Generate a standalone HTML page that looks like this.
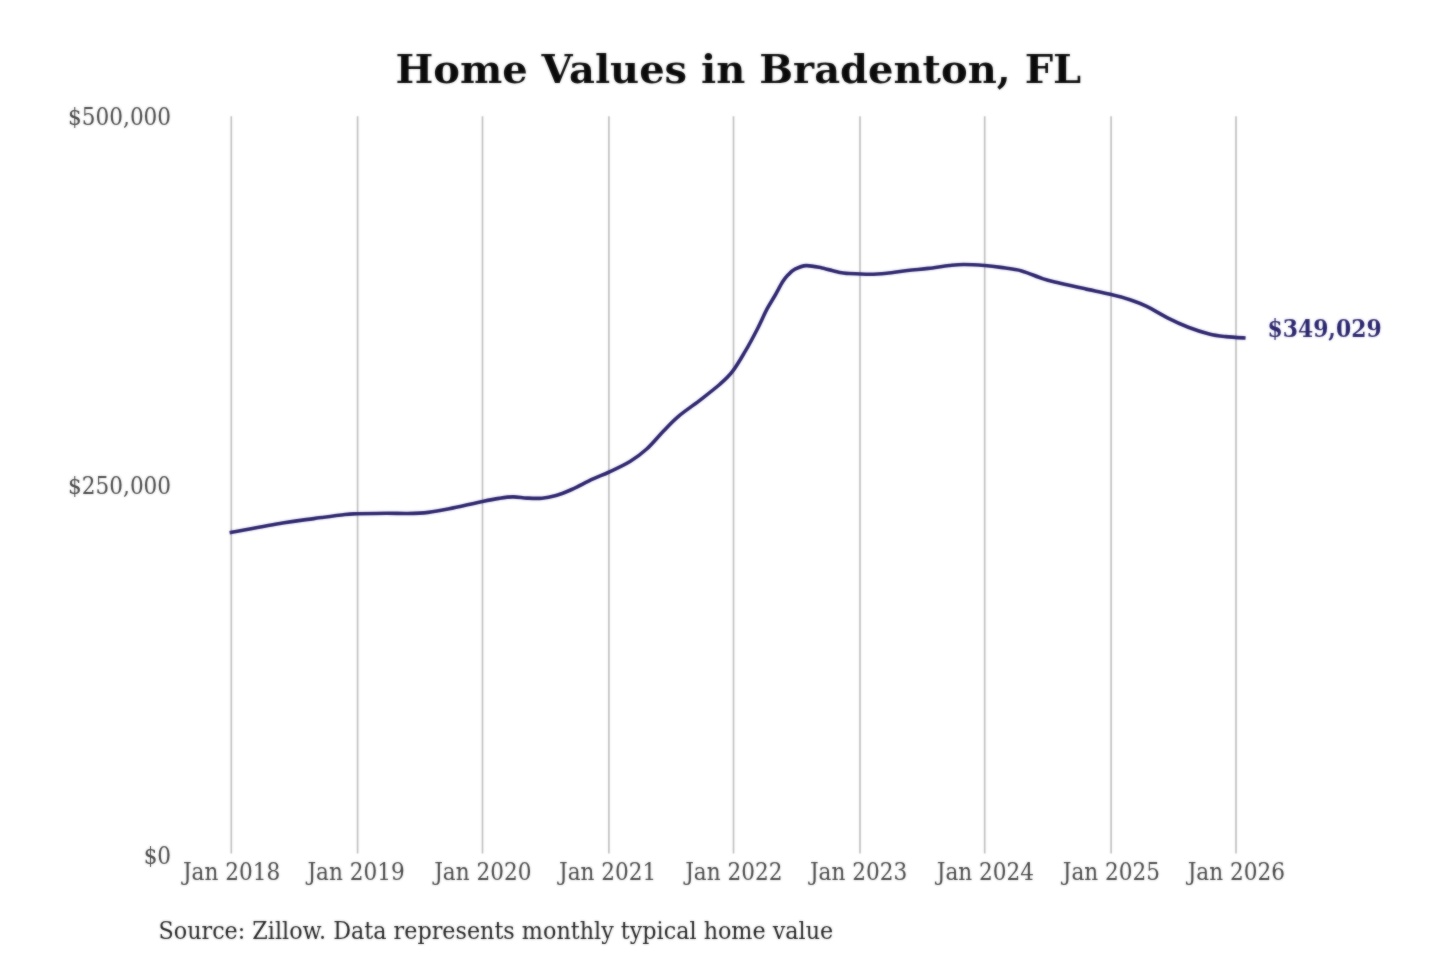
<!DOCTYPE html>
<html lang="en"><head><meta charset="utf-8"><title>Home Values in Bradenton, FL</title>
<style>
html,body{margin:0;padding:0;background:#fff;}
body{width:1440px;height:960px;overflow:hidden;font-family:"DejaVu Serif","Liberation Serif",serif;}
svg{display:block;}
svg{font-family:"DejaVu Serif","Liberation Serif",serif;}
.title{font-size:40px;font-weight:bold;fill:#0a0a0a;}
.tick{font-family:"DejaVu Serif Condensed","DejaVu Serif","Liberation Serif",serif;font-stretch:condensed;font-size:24px;fill:#444;}
.src{font-size:22.28px;fill:#1e1e1e;}
.ann{font-family:"DejaVu Serif Condensed","DejaVu Serif","Liberation Serif",serif;font-stretch:condensed;font-size:23.5px;font-weight:bold;fill:#2a256e;}
</style></head>
<body>
<svg width="1440" height="960" viewBox="0 0 1440 960">
<defs><filter id="soft" x="0" y="0" width="1440" height="960" filterUnits="userSpaceOnUse" color-interpolation-filters="sRGB"><feGaussianBlur stdDeviation="0.8" result="b"/><feComposite in="b" in2="SourceGraphic" operator="arithmetic" k1="0" k2="0.5" k3="0.5" k4="0"/></filter></defs>
<rect width="1440" height="960" fill="#ffffff"/>
<g filter="url(#soft)">
<text class="title" x="738.3" y="83.3" text-anchor="middle">Home Values in Bradenton, FL</text>
<g stroke="#bcbcbc" stroke-width="1.6" fill="none">
<line x1="231.30" y1="116.3" x2="231.30" y2="853.4"/>
<line x1="357.60" y1="116.3" x2="357.60" y2="853.4"/>
<line x1="482.50" y1="116.3" x2="482.50" y2="853.4"/>
<line x1="608.90" y1="116.3" x2="608.90" y2="853.4"/>
<line x1="733.50" y1="116.3" x2="733.50" y2="853.4"/>
<line x1="860.00" y1="116.3" x2="860.00" y2="853.4"/>
<line x1="984.70" y1="116.3" x2="984.70" y2="853.4"/>
<line x1="1111.10" y1="116.3" x2="1111.10" y2="853.4"/>
<line x1="1236.00" y1="116.3" x2="1236.00" y2="853.4"/>
</g>
<g class="tick" text-anchor="end">
<text x="171.1" y="124.6">$500,000</text>
<text x="171.1" y="493.9">$250,000</text>
<text x="171.1" y="863.8">$0</text>
</g>
<g class="tick" text-anchor="middle">
<text x="231.55" y="880">Jan 2018</text>
<text x="356.05" y="880">Jan 2019</text>
<text x="482.75" y="880">Jan 2020</text>
<text x="607.65" y="880">Jan 2021</text>
<text x="733.75" y="880">Jan 2022</text>
<text x="858.50" y="880">Jan 2023</text>
<text x="985.45" y="880">Jan 2024</text>
<text x="1111.35" y="880">Jan 2025</text>
<text x="1236.25" y="880">Jan 2026</text>
</g>
<path d="M229.6,532.8C238.4,531.2 268.5,525.4 282.5,523.0C296.5,520.6 303.3,520.0 313.8,518.6C324.2,517.2 337.7,515.3 345.0,514.5C352.3,513.7 350.6,514.0 357.5,513.8C364.4,513.6 378.4,513.2 386.7,513.2C395.0,513.2 400.6,513.6 407.5,513.5C414.4,513.4 421.4,513.2 428.3,512.4C435.2,511.6 440.2,510.6 449.2,508.8C458.2,507.0 474.2,503.2 482.5,501.5C490.8,499.8 493.9,499.2 499.0,498.4C504.1,497.6 508.3,496.9 513.0,496.9C517.7,496.8 522.2,497.9 527.0,498.1C531.8,498.3 537.2,498.6 542.0,498.2C546.8,497.8 551.0,496.9 556.0,495.5C561.0,494.1 565.6,492.2 571.7,489.5C577.8,486.8 586.2,482.0 592.5,479.1C598.8,476.2 603.0,474.9 609.2,472.0C615.5,469.1 623.8,465.3 630.0,461.5C636.2,457.7 641.2,454.0 646.7,449.0C652.2,444.0 658.1,436.7 663.3,431.3C668.5,425.9 672.0,421.8 677.9,416.8C683.8,411.7 691.8,406.5 698.8,401.1C705.7,395.7 714.0,389.4 719.6,384.5C725.2,379.6 728.3,376.9 732.5,371.4C736.7,366.0 740.8,358.8 745.0,351.7C749.2,344.6 753.8,335.9 757.5,328.7C761.2,321.5 764.2,314.3 767.2,308.7C770.2,303.1 772.7,299.5 775.3,295.0C777.9,290.5 780.6,285.0 782.8,281.6C784.9,278.2 786.2,276.9 788.2,274.8C790.2,272.7 792.0,270.6 795.0,269.1C798.0,267.6 801.8,265.8 806.2,265.6C810.7,265.4 816.3,266.8 821.9,267.9C827.5,269.0 835.5,271.6 840.0,272.5C844.5,273.4 844.2,273.2 849.2,273.5C854.2,273.8 863.8,274.3 870.0,274.3C876.2,274.2 880.5,273.8 886.7,273.2C893.0,272.6 900.6,271.3 907.5,270.5C914.4,269.7 921.3,269.2 928.3,268.4C935.2,267.6 943.3,266.1 949.2,265.5C955.1,264.9 957.9,264.5 963.8,264.5C969.6,264.5 978.4,265.0 984.6,265.5C990.8,266.0 994.6,266.5 1000.8,267.4C1007.0,268.3 1014.8,269.0 1021.7,270.9C1028.7,272.8 1036.2,276.6 1042.5,278.6C1048.8,280.7 1052.2,281.3 1059.2,283.0C1066.2,284.7 1075.7,286.8 1084.2,288.6C1092.7,290.5 1102.6,292.5 1110.2,294.3C1117.8,296.1 1123.9,297.7 1130.0,299.7C1136.1,301.7 1140.5,303.4 1146.7,306.4C1153.0,309.4 1160.6,314.3 1167.5,317.8C1174.4,321.3 1181.3,324.5 1188.3,327.2C1195.2,329.9 1203.0,332.3 1209.2,333.9C1215.5,335.5 1219.7,335.9 1225.8,336.6C1231.9,337.3 1242.3,337.8 1245.6,338.0" fill="none" stroke="#2a236e" stroke-width="3.6" stroke-linejoin="round" stroke-linecap="butt"/>
<text class="ann" x="1267.5" y="337.3" transform="translate(1267.5 0) scale(1.035 1) translate(-1267.5 0)">$349,029</text>
<text class="src" x="158.5" y="938.8" transform="translate(0 938.8) scale(1 1.05) translate(0 -938.8)">Source: Zillow. Data represents monthly typical home value</text>
</g>
</svg>
</body></html>
